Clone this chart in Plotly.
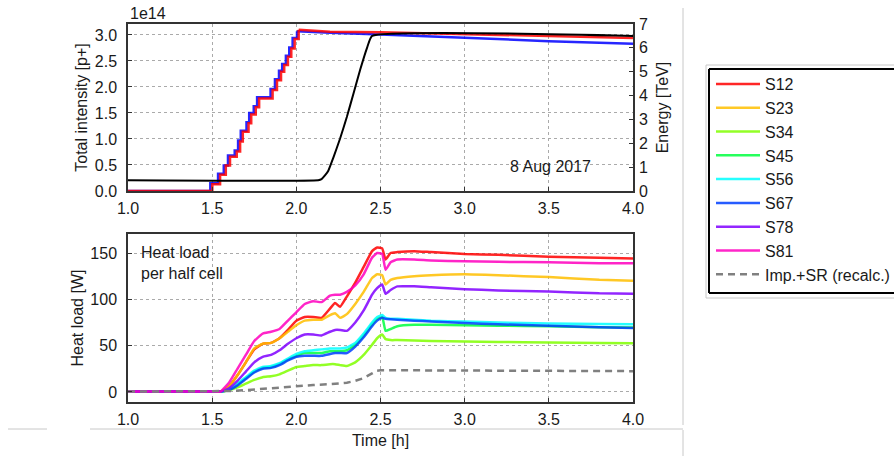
import plotly.graph_objects as go

# ---------------- data ----------------
# Top panel: beam intensities (units of 1e14 p+) and energy (TeV)
t_b1_inj = [1.0, 1.501, 1.547, 1.581, 1.606, 1.646, 1.666, 1.682, 1.716, 1.732, 1.759, 1.779,
            1.859, 1.885, 1.909, 1.928, 1.950, 1.970, 1.990, 2.014]
int_b1_inj = [0.0, 0.13, 0.31, 0.49, 0.66, 0.76, 0.95, 1.14, 1.30, 1.47, 1.61, 1.78,
              1.94, 2.13, 2.29, 2.42, 2.58, 2.74, 2.92, 3.10]
t_b1_coast = [2.014, 2.10, 2.20, 2.50, 3.00, 3.50, 4.00]
int_b1_coast = [3.10, 3.08, 3.06, 3.05, 3.02, 2.98, 2.94]
t_b2_inj = [1.0, 1.489, 1.535, 1.569, 1.594, 1.634, 1.654, 1.670, 1.704, 1.720, 1.747, 1.767,
            1.847, 1.873, 1.897, 1.916, 1.938, 1.958, 1.978, 2.004]
int_b2_inj = [0.0, 0.15, 0.33, 0.49, 0.68, 0.78, 0.97, 1.16, 1.32, 1.50, 1.63, 1.80,
              1.96, 2.15, 2.31, 2.44, 2.60, 2.76, 2.94, 3.07]
t_b2_coast = [2.004, 2.10, 2.20, 2.50, 3.00, 3.50, 4.00]
int_b2_coast = [3.07, 3.05, 3.04, 3.01, 2.94, 2.88, 2.83]
t_energy = [1.0, 2.13, 2.15, 2.17, 2.19, 2.22, 2.26, 2.30, 2.34, 2.38, 2.42, 2.45, 4.0]
energy = [0.45, 0.45, 0.5, 0.65, 0.85, 1.4, 2.2, 3.1, 4.1, 5.1, 6.0, 6.5, 6.5]

# Bottom panel: heat load per half cell [W]
t_hl = [1.0, 1.2, 1.4, 1.5, 1.55, 1.6, 1.65, 1.7, 1.75, 1.8, 1.85, 1.9, 1.95, 2.0, 2.05, 2.1, 2.15, 2.2,
        2.23, 2.26, 2.3, 2.35, 2.4, 2.45, 2.48, 2.51, 2.53, 2.56, 2.6, 2.7, 2.8, 3.0, 3.2,
        3.5, 3.8, 4.0]
sectors = ["S12", "S23", "S34", "S45", "S56", "S67", "S78", "S81"]
hl_S12 = [0.5, 0.5, 0.5, 0.5, 0.5, 6, 18, 32, 46, 52, 53, 58, 67, 77, 81, 81, 80, 90, 96, 92, 103, 118, 135, 152,
          156, 155, 143, 150, 151, 152, 151, 149, 148, 146, 145, 144]
hl_S23 = [0.5, 0.5, 0.5, 0.5, 0.5, 6, 18, 32, 47, 52, 53, 58, 65, 72, 77, 78, 78, 83, 85, 80, 84, 95, 108, 123,
          127, 126, 116, 121, 123, 125, 126, 127, 126, 124, 121, 120]
hl_S34 = [0.5, 0.5, 0.5, 0.5, 0.5, 2, 5, 9, 13, 16, 17, 19, 23, 27, 28, 29, 29, 30, 30, 29, 28, 32, 40, 51,
          58, 62, 57, 56, 56, 55.5, 55, 54.5, 54, 53.5, 53, 52.5]
hl_S45 = [0.5, 0.5, 0.5, 0.5, 0.5, 2, 8, 15, 22, 26, 27, 30, 35, 39, 42, 42, 42, 44, 44, 44, 45, 51, 61, 73,
          79, 81, 66, 68, 71, 72.5, 72.5, 72, 71.5, 71, 70, 69.5]
hl_S56 = [0.5, 0.5, 0.5, 0.5, 0.5, 3, 9, 16, 23, 27, 28, 31, 36, 41, 44, 45, 46, 47, 47, 47, 48, 53, 63, 75,
          81, 83, 80, 79, 79, 78, 77, 76, 75, 74, 73.5, 73]
hl_S67 = [0.5, 0.5, 0.5, 0.5, 0.5, 2, 7, 14, 21, 25, 26, 29, 34, 38, 39, 39, 39, 41, 42, 42, 42, 49, 59, 71,
          77, 80, 79, 78.5, 78, 77, 76, 74.5, 73, 71.5, 70, 69]
hl_S78 = [0.5, 0.5, 0.5, 0.5, 0.5, 4, 12, 22, 32, 38, 40, 45, 52, 58, 62, 62, 61, 65, 67, 67, 66, 75, 88, 105,
          112, 116, 106, 110, 114, 114, 113, 111, 109.5, 108.5, 106.5, 106]
hl_S81 = [0.5, 0.5, 0.5, 0.5, 0.5, 10, 25, 40, 55, 63, 65, 68, 77, 86, 95, 98, 97, 104, 105, 105, 108, 115, 127, 145,
          150, 149, 132, 140, 143, 143, 142, 141, 140.5, 140, 139, 139]
t_imp = [1.0, 1.55, 1.6, 1.7, 1.8, 1.9, 2.0, 2.1, 2.2, 2.3, 2.35, 2.4, 2.45, 2.48, 2.5, 4.0]
hl_imp = [0.5, 0.5, 1, 2, 3.5, 5, 6.5, 7.5, 8.5, 10, 12, 15, 20, 23, 23.5, 22.5]

sector_colors = ["#ff0000", "#ffbf00", "#80ff00", "#00ff40", "#00ffff", "#0040ff", "#8000ff", "#ff00bf"]
hl_values = [hl_S12, hl_S23, hl_S34, hl_S45, hl_S56, hl_S67, hl_S78, hl_S81]

x_ticks = [1.0, 1.5, 2.0, 2.5, 3.0, 3.5, 4.0]
int_ticks = [0.0, 0.5, 1.0, 1.5, 2.0, 2.5, 3.0]
energy_ticks = [0, 1, 2, 3, 4, 5, 6, 7]
hl_ticks = [0, 50, 100, 150]

# ---------------- figure ----------------
FONT = "Liberation Sans, Arial, sans-serif"
FS = 16
TXT = "#1a1a1a"
fig = go.Figure()

for tx, iy, shp in [(t_b2_inj, int_b2_inj, "hv"), (t_b2_coast, int_b2_coast, "linear")]:
    fig.add_trace(go.Scatter(x=tx, y=iy, mode="lines", line=dict(color="rgba(0,0,255,0.85)", width=2.5, shape=shp),
                             showlegend=False, xaxis="x", yaxis="y"))
for tx, iy, shp in [(t_b1_inj, int_b1_inj, "hv"), (t_b1_coast, int_b1_coast, "linear")]:
    fig.add_trace(go.Scatter(x=tx, y=iy, mode="lines", line=dict(color="rgba(255,0,0,0.85)", width=2.5, shape=shp),
                             showlegend=False, xaxis="x", yaxis="y"))
fig.add_trace(go.Scatter(x=t_energy, y=energy, mode="lines", line=dict(color="black", width=2, shape="spline", smoothing=0.4),
                         showlegend=False, xaxis="x", yaxis="y3"))

for name, col, vals in zip(sectors, sector_colors, hl_values):
    fig.add_trace(go.Scatter(x=t_hl, y=vals, mode="lines", name=name, legendgroup=name,
                             line=dict(color=col, width=2.5, shape="spline", smoothing=0.4),
                             opacity=0.85, xaxis="x2", yaxis="y2"))
fig.add_trace(go.Scatter(x=t_imp, y=hl_imp, mode="lines", name="Imp.+SR (recalc.)", legendgroup="imp",
                         line=dict(color="#808080", width=2.5, dash="7px,5px"),
                         xaxis="x2", yaxis="y2"))

L, R, T, B = 128, 261, 24, 54
W, H = 894, 456
pw, ph = W - L - R, H - T - B


def px(x):
    return (x - L) / pw


def py(y):
    return (H - B - y) / ph


axis_common = dict(showline=True, linecolor="#333333", linewidth=1.5, mirror=True,
                   ticks="inside", ticklen=4, tickcolor="#333333",
                   showgrid=True, gridcolor="#aaaaaa", griddash="dot", gridwidth=1,
                   zeroline=False, tickfont=dict(size=FS, color=TXT, family=FONT))

fig.update_layout(
    width=W, height=H,
    margin=dict(l=L, r=R, t=T, b=B, autoexpand=False),
    paper_bgcolor="white", plot_bgcolor="white",
    font=dict(family=FONT, size=FS, color=TXT),
    xaxis=dict(domain=[0, 1], anchor="y", range=[1, 4], tickvals=x_ticks, tickformat=".1f",
               ticklabelstandoff=2, **axis_common),
    yaxis=dict(domain=[py(191), 1], anchor="x", range=[0, 3.21], tickvals=int_ticks, tickformat=".1f",
               ticklabelstandoff=6,
               title=dict(text="Total intensity [p+]", standoff=3, font=dict(size=FS)), **axis_common),
    yaxis3=dict(overlaying="y", anchor="x", side="right", range=[0, 7], tickvals=energy_ticks,
                showgrid=False, zeroline=False, showline=False, ticks="inside", ticklen=4, tickcolor="#333333",
                tickfont=dict(size=FS, color=TXT, family=FONT), ticklabelstandoff=5,
                title=dict(text="Energy [TeV]", standoff=9, font=dict(size=FS))),
    xaxis2=dict(domain=[0, 1], anchor="y2", range=[1, 4], tickvals=x_ticks, tickformat=".1f",
                ticklabelstandoff=2,
                title=dict(text="Time [h]", standoff=8, font=dict(size=FS)), **axis_common),
    yaxis2=dict(domain=[0, py(234)], anchor="x2", range=[-10.8, 170.5], tickvals=hl_ticks,
                ticklabelstandoff=6,
                title=dict(text="Heat load [W]", standoff=3, font=dict(size=FS)), **axis_common),
    legend=dict(x=px(711), y=py(67), xanchor="left", yanchor="top", traceorder="grouped", tracegroupgap=0,
                itemwidth=44, borderwidth=0, bgcolor="rgba(0,0,0,0)",
                font=dict(size=FS, family=FONT, color=TXT)),
)

fig.add_annotation(text="1e14", x=0, y=py(14), xref="paper", yref="paper", xanchor="left", yanchor="middle",
                   showarrow=False, font=dict(size=FS))
fig.add_annotation(text="8 Aug 2017", x=px(550), y=py(167), xref="paper", yref="paper", xanchor="center",
                   yanchor="middle", showarrow=False, font=dict(size=FS))
fig.add_annotation(text="Heat load<br>per half cell", x=px(139), y=py(242), xref="paper", yref="paper",
                   xanchor="left", yanchor="top", align="left", showarrow=False, font=dict(size=FS))


def hline(x0, x1, y, line):
    fig.add_shape(type="line", xref="paper", yref="paper", x0=px(x0), x1=px(x1), y0=py(y), y1=py(y), line=line)


def vline(x, y0, y1, line):
    fig.add_shape(type="line", xref="paper", yref="paper", x0=px(x), x1=px(x), y0=py(y0), y1=py(y1), line=line)


# surrounding light frame lines
gl = dict(color="#c8c8c8", width=1)
vline(683, 425, 8, gl)
vline(683, 456, 430, gl)
hline(90, 683, 429, gl)
hline(8, 47, 429, gl)
# outer (gray) and inner (black) legend frames, both running off the right edge
hline(706, 894, 65, gl)
hline(706, 894, 298, gl)
vline(706, 298, 65, gl)
bl = dict(color="black", width=2)
hline(709, 894, 69, bl)
hline(709, 894, 293, bl)
vline(709, 293, 69, bl)

fig.write_html("out.html")
